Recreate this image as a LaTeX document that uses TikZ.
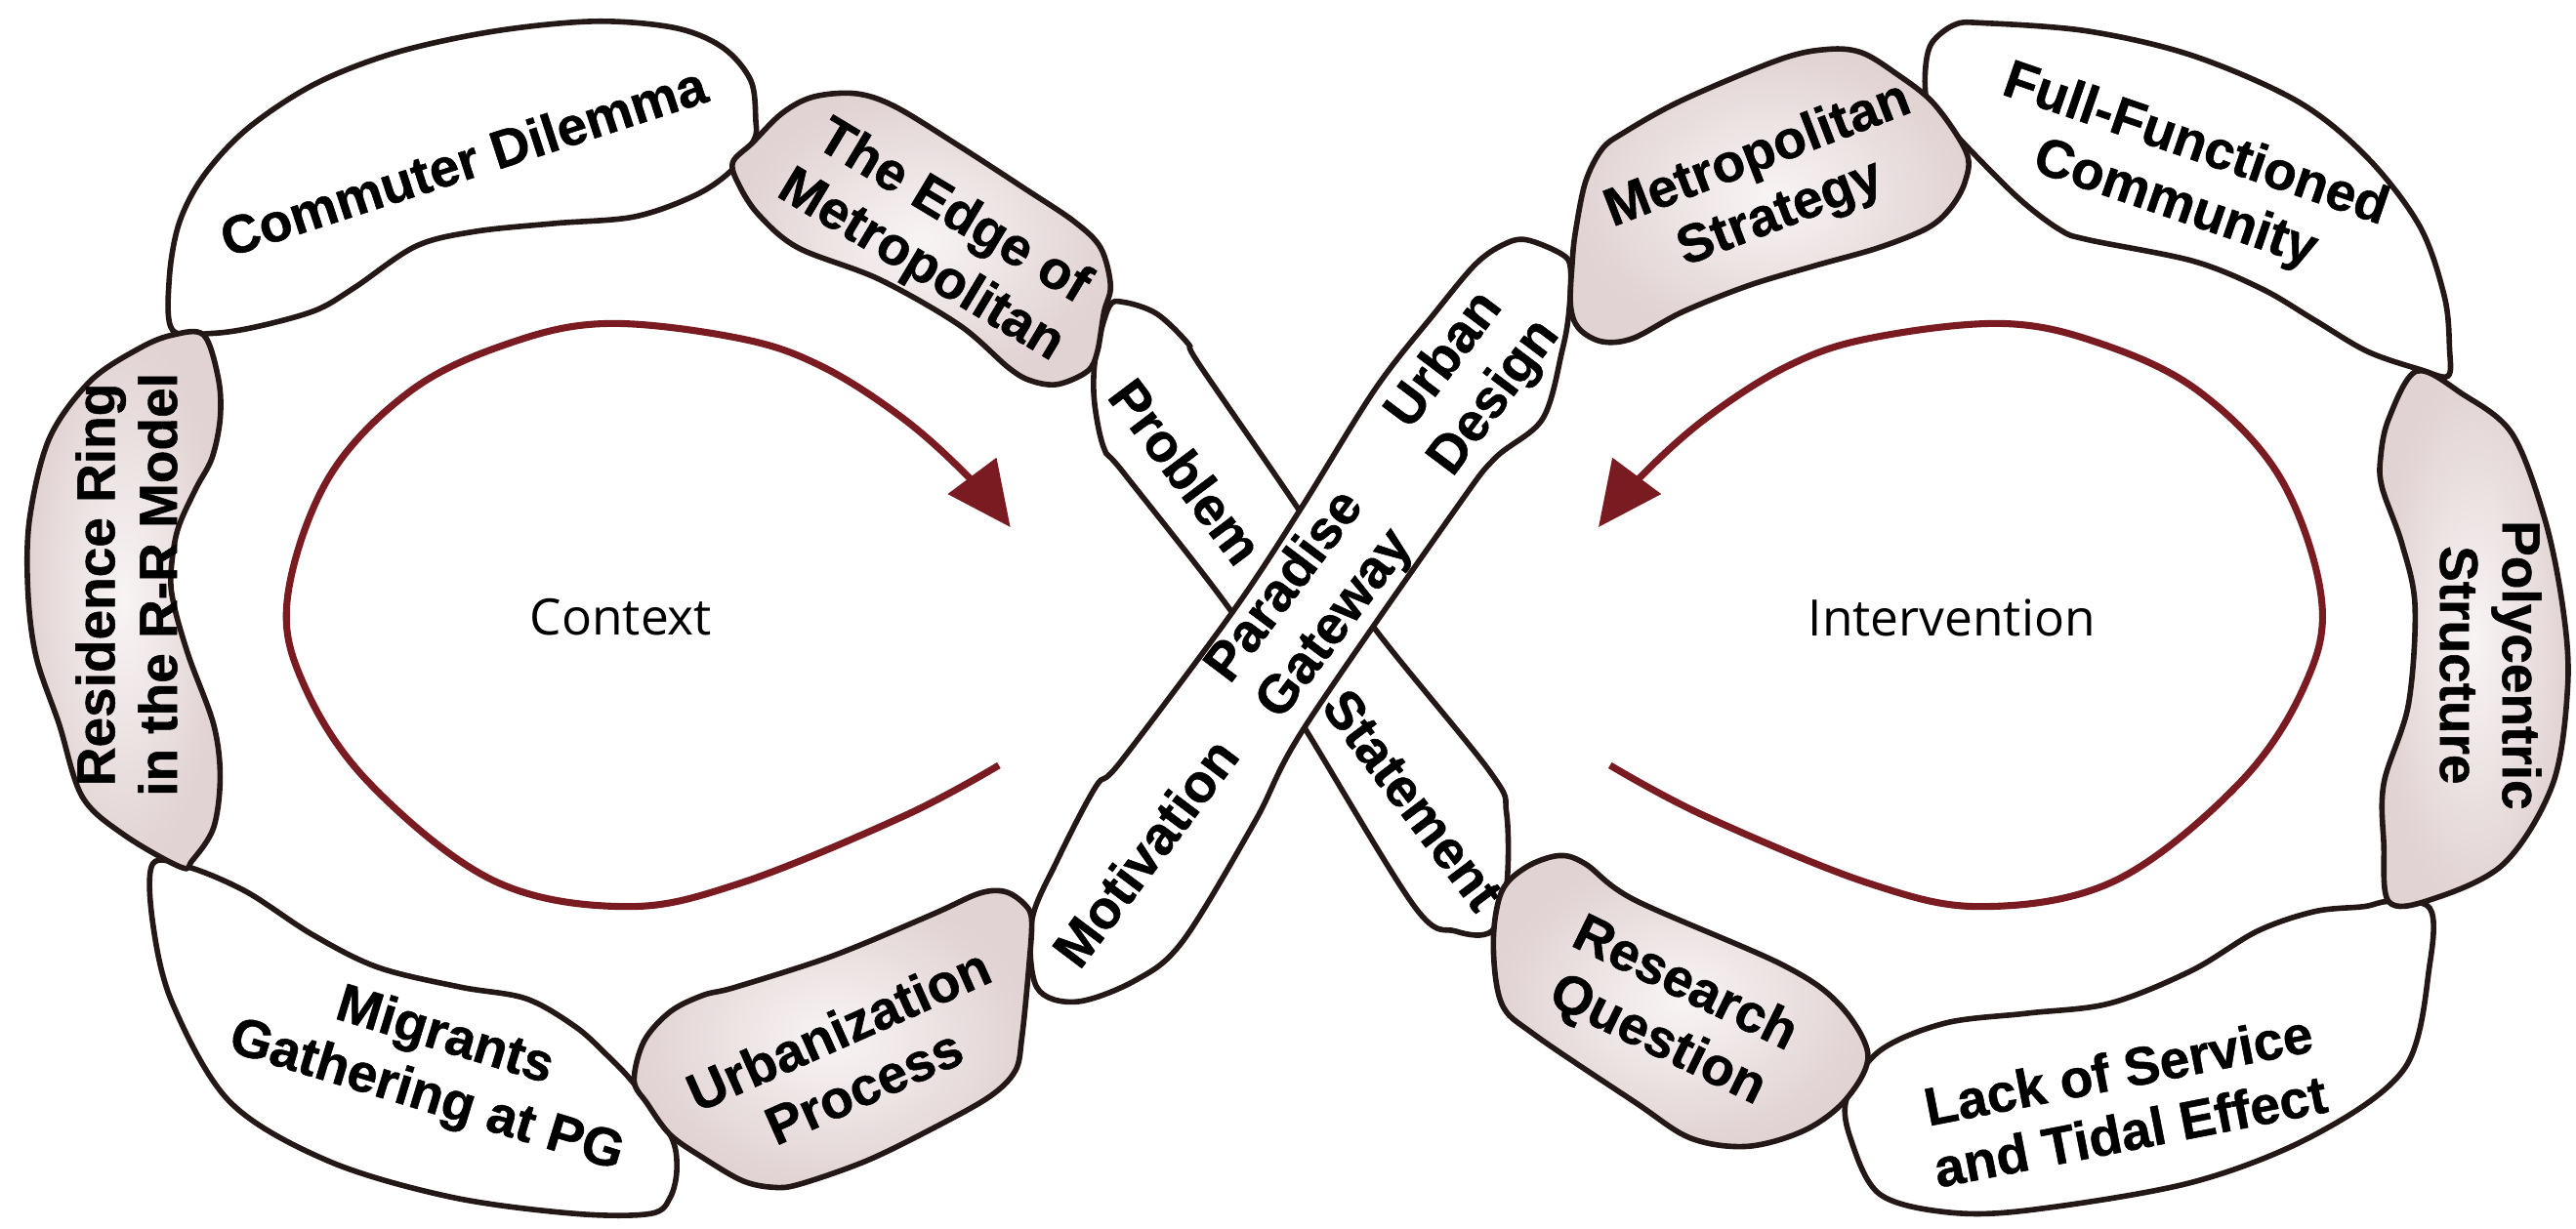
\documentclass[tikz,border=0pt]{standalone}
\usepackage{fontspec}
\setmainfont{Liberation Sans}[BoldFeatures={FakeBold=0.9}]
\newfontfamily\loopfont{Open Sans}
\usetikzlibrary{arrows.meta}

\definecolor{outl}{RGB}{35,24,21}
\definecolor{loopred}{RGB}{122,27,34}
\definecolor{tintin}{RGB}{248,244,244}
\definecolor{tintout}{RGB}{225,210,211}

\tikzset{
	whitepart/.style={draw=outl, line width=0.95pt, fill=white},
	tintpart/.style={draw=outl, line width=0.95pt, inner color=tintin, outer color=tintout},
	lbl/.style={font=\fontsize{9.3}{10.8}\selectfont\bfseries, align=center, inner sep=0pt},
	looplbl/.style={font=\loopfont\fontsize{8.7}{10}\selectfont, inner sep=0pt},
	loopline/.style={draw=loopred, line width=1.2pt, -{Triangle[length=3.9mm,width=3.6mm]}}
}

\begin{document}
\begin{tikzpicture}[x=0.1mm, y=-0.1mm]
	\useasboundingbox (0,0) rectangle (1568,748);

	\pgfmathsetmacro{\angBand}{53}
	\pgfmathsetmacro{\tens}{0.55}

	% Draw the band Problem - Statement (under the other one)
	\draw[whitepart] plot[smooth cycle, tension=\tens] coordinates {(675,187) (684,184) (704,191) (723,209) (730,222) (791,311) (834,379) (907,470) (917,495) (917,540) (908,567) (886,567) (861,552) (794,443) (750,373) (684,288) (672,273) (666,243) (667,216)};

	% Draw the band Urban Design - Motivation
	\draw[whitepart] plot[smooth cycle, tension=\tens] coordinates {(929,146) (951,155) (956,164) (955,190) (951,213) (939,255) (910,279) (886,310) (794,443) (764,500) (720,573) (691,597) (655,610) (631,601) (628,561) (643,525) (667,479) (682,464) (750,373) (791,311) (837,237) (873,191) (898,161) (915,149)};

	% Draw the white parts of the ring
	\draw[whitepart] plot[smooth cycle, tension=\tens] coordinates {(105,201) (103,170) (109,136) (124,107) (151,78) (192,51) (241,32) (301,19) (362,13) (411,17) (440,29) (457,49) (460,73) (459,85) (445,104) (423,119) (386,132) (338,136) (289,141) (253,150) (216,175) (192,189) (156,199) (129,203)};
	\draw[whitepart] plot[smooth cycle, tension=\tens] coordinates {(93,526) (115,528) (150,543) (190,569) (230,589) (280,601) (320,608) (350,625) (369,642) (386,660) (408,691) (412,711) (408,729) (396,739) (350,739) (275,729) (200,707) (140,671) (105,611) (93,562)};
	\draw[whitepart] plot[smooth cycle, tension=\tens] coordinates {(1173,62) (1172,42) (1176,26) (1190,15) (1207,14) (1271,19) (1335,34) (1399,62) (1441,96) (1473,138) (1488,181) (1491,212) (1490,229) (1473,225) (1441,214) (1409,195) (1377,176) (1335,159) (1271,146) (1254,140) (1229,121) (1197,89) (1182,72)};
	\draw[whitepart] plot[smooth cycle, tension=\tens] coordinates {(1454,549) (1479,553) (1479,587) (1464,650) (1409,691) (1334,720) (1234,737) (1184,738) (1144,727) (1127,695) (1124,669) (1144,640) (1184,623) (1234,617) (1284,611) (1334,591) (1374,567) (1409,555) (1439,552)};

	% Draw the shaded parts of the ring
	\draw[tintpart] plot[smooth cycle, tension=\tens] coordinates {(446,99) (458,87) (476,69) (495,59) (521,57) (545,65) (584,89) (624,115) (654,135) (670,151) (676,174) (672,190) (668,214) (662,226) (644,234) (628,232) (614,224) (584,198) (535,170) (486,151) (462,131) (450,113)};
	\draw[tintpart] plot[smooth cycle, tension=\tens] coordinates {(124,204) (133,231) (134,255) (129,279) (119,298) (108,323) (104,350) (106,369) (115,400) (130,441) (134,473) (130,504) (117,524) (110,528) (75,508) (50,485) (36,441) (22,400) (17,360) (18,316) (30,267) (55,232) (85,212) (105,204)};
	\draw[tintpart] plot[smooth cycle, tension=\tens] coordinates {(386,658) (392,634) (408,616) (428,606) (448,601) (507,582) (567,557) (596,544) (612,543) (624,551) (628,561) (626,592) (622,632) (618,652) (602,668) (566,688) (527,707) (487,721) (471,723) (452,719) (428,705) (408,691) (394,672)};
	\draw[tintpart] plot[smooth cycle, tension=\tens] coordinates {(957,160) (959,141) (965,111) (975,91) (988,81) (1024,61) (1084,36) (1113,30) (1133,32) (1153,44) (1177,63) (1197,93) (1196,111) (1187,127) (1173,139) (1143,151) (1104,162) (1064,174) (1024,190) (994,206) (975,208) (961,200) (956,186)};
	\draw[tintpart] plot[smooth cycle, tension=\tens] coordinates {(1471,226) (1499,240) (1529,264) (1549,316) (1560,370) (1563,417) (1554,477) (1524,526) (1479,548) (1454,549) (1451,514) (1451,477) (1466,429) (1470,369) (1462,331) (1450,297) (1449,279) (1454,255)};
	\draw[tintpart] plot[smooth cycle, tension=\tens] coordinates {(949,521) (965,526) (995,548) (1084,587) (1119,611) (1137,642) (1124,669) (1099,688) (1064,698) (1029,693) (995,671) (934,630) (914,611) (909,574) (914,543) (929,528)};

	% Draw the loop arrows
	\draw[loopline] plot[smooth, tension=0.6] coordinates {(608,466) (550,497) (450,538) (380,552) (300,536) (225,477) (185,417) (175,364) (200,291) (250,238) (310,209) (370,197) (450,206) (500,223) (550,255) (590,291) (615,321)};
	\draw[loopline] plot[smooth, tension=0.6] coordinates {(980,466) (1038,497) (1138,538) (1208,552) (1288,536) (1363,477) (1403,417) (1413,364) (1388,291) (1338,238) (1278,209) (1218,197) (1138,206) (1088,223) (1038,255) (998,291) (973,321)};

	% Label the parts
	\node (cdtxt) at (282,98) [lbl, rotate=18] {Commuter Dilemma};
	\node (edgetxt) at (570,146) [lbl, rotate=-31] {The Edge of\\Metropolitan};
	\node (rrtxt) at (77,356) [lbl, rotate=90] {Residence Ring\\in the R-R Model};
	\node (mgtxt) at (265,650) [lbl, rotate=-17] {Migrants\\Gathering at PG};
	\node (uptxt) at (518,644) [lbl, rotate=24] {Urbanization\\Process};
	\node (probtxt) at (722,287) [lbl, rotate=-\angBand] {Problem};
	\node (stattxt) at (860,487) [lbl, rotate=-\angBand] {Statement};
	\node (udtxt) at (895,231) [lbl, rotate=\angBand] {Urban\\Design};
	\node (pgtxt) at (798,369) [lbl, rotate=\angBand] {Paradise\\Gateway};
	\node (motitxt) at (697,519) [lbl, rotate=\angBand] {Motivation};
	\node (mstxt) at (1077,113) [lbl, rotate=21] {Metropolitan\\Strategy};
	\node (fftxt) at (1330,107) [lbl, rotate=-19] {Full-Functioned\\Community};
	\node (pctxt) at (1516,405) [lbl, rotate=-90] {Polycentric\\Structure};
	\node (rqtxt) at (1017,617) [lbl, rotate=-26] {Research\\Question};
	\node (lstxt) at (1293,670) [lbl, rotate=11] {Lack of Service\\and Tidal Effect};

	% Label the loops
	\node (ctxtxt) at (378,376) [looplbl] {Context};
	\node (ivtxt) at (1188,376) [looplbl] {Intervention};
\end{tikzpicture}
\end{document}
